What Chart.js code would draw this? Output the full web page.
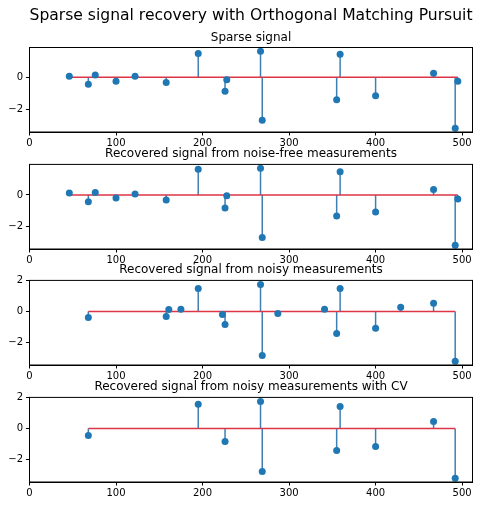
<!DOCTYPE html>
<html><head><meta charset="utf-8">
<script src="https://cdn.jsdelivr.net/npm/chart.js@4/dist/chart.umd.min.js"></script>
<style>
body{margin:0;background:#fff;width:487px;height:505px;position:relative;overflow:hidden}
canvas{position:absolute;left:0}
</style></head><body>
<canvas id="c0" width="487" height="152" style="top:0px"></canvas>
<canvas id="c1" width="487" height="123" style="top:145.6px"></canvas>
<canvas id="c2" width="487" height="123" style="top:262.1px"></canvas>
<canvas id="c3" width="487" height="123" style="top:378.6px"></canvas>
<script>
const suptitle = "Sparse signal recovery with Orthogonal Matching Pursuit";
const panelTitles = [
  "Sparse signal",
  "Recovered signal from noise-free measurements",
  "Recovered signal from noisy measurements",
  "Recovered signal from noisy measurements with CV"
];
const xTicks = [0, 100, 200, 300, 400, 500];
const yTicksA = [-2, 0];
const yTicksB = [-2, 0, 2];

// Panel 1: sparse signal
const idx1  = [46, 68, 76, 100, 122, 158, 195, 226, 228, 267, 269, 355, 359, 400, 467, 492, 495];
const coef1 = [0.07, -0.44, 0.15, -0.25, 0.06, -0.33, 1.50, -0.88, -0.15, 1.63, -2.69, -1.40, 1.44, -1.15, 0.25, -3.19, -0.25];
// Panel 2: noise-free recovery
const idx2  = [46, 68, 76, 100, 122, 158, 195, 226, 228, 267, 269, 355, 359, 400, 467, 492, 495];
const coef2 = [0.13, -0.43, 0.15, -0.19, 0.06, -0.32, 1.63, -0.84, -0.06, 1.70, -2.71, -1.35, 1.48, -1.08, 0.34, -3.20, -0.26];
// Panel 3: noisy recovery
const idx3  = [68, 158, 161, 175, 195, 223, 226, 267, 269, 287, 341, 355, 359, 400, 429, 467, 492];
const coef3 = [-0.39, -0.32, 0.13, 0.15, 1.48, -0.19, -0.84, 1.74, -2.84, -0.13, 0.15, -1.42, 1.48, -1.08, 0.28, 0.54, -3.20];
// Panel 4: noisy recovery with CV
const idx4  = [68, 195, 226, 267, 269, 355, 359, 400, 467, 492];
const coef4 = [-0.45, 1.57, -0.84, 1.74, -2.77, -1.42, 1.42, -1.16, 0.45, -3.20];

const yLims = [[-3.43, 1.87], [-3.445, 1.945], [-3.45, 2.01], [-3.45, 2.01]];

const FONT = "DejaVu Sans";
const frame = {
  id: 'frame',
  afterDatasetsDraw(chart) {
    const a = chart.chartArea, ctx = chart.ctx;
    ctx.save();
    ctx.strokeStyle = '#000';
    ctx.lineWidth = 1;
    ctx.strokeRect(a.left, a.top, a.right - a.left, a.bottom - a.top);
    ctx.restore();
  }
};

function fmt(v) { return v < 0 ? '\u2212' + Math.abs(v) : String(v); }

function makeChart(id, idx, coef, title, yTicks, lim, withSup) {
  const pts = idx.map((x, i) => ({x: x, y: coef[i]}));
  const stems = [];
  idx.forEach((x, i) => { stems.push({x: x, y: 0}, {x: x, y: coef[i]}, {x: x, y: null}); });
  const base = [{x: Math.min(...idx), y: 0}, {x: Math.max(...idx), y: 0}];
  const plugins = {
    legend: {display: false},
    tooltip: {enabled: false}
  };
  if (withSup) {
    plugins.title = {display: true, text: suptitle, fullSize: false, color: '#000',
      font: {family: FONT, size: 16, weight: 'normal'}, padding: {top: 6.4, bottom: 3.5}};
    plugins.subtitle = {display: true, text: title, fullSize: false, color: '#000',
      font: {family: FONT, size: 12, weight: 'normal'}, padding: {top: 2, bottom: 2}};
  } else {
    plugins.title = {display: true, text: title, fullSize: false, color: '#000',
      font: {family: FONT, size: 12, weight: 'normal'}, padding: {top: 1, bottom: 3}};
  }
  new Chart(document.getElementById(id), {
    type: 'line',
    data: {datasets: [
      {data: pts, showLine: false, pointRadius: 3.5, pointBackgroundColor: '#1f77b4',
       pointBorderWidth: 0, pointBorderColor: '#1f77b4', order: 1},
      {data: base, borderColor: '#dc3545', borderWidth: 1.5, pointRadius: 0, order: 2},
      {data: stems, borderColor: '#3f80b3', borderWidth: 1.5, pointRadius: 0, spanGaps: false, order: 3}
    ]},
    options: {
      responsive: false, animation: false, events: [],
      layout: {padding: {left: 0, right: 14.5, top: 0, bottom: 0}},
      plugins: plugins,
      scales: {
        x: {type: 'linear', min: 0, max: 512,
          afterBuildTicks: s => { s.ticks = xTicks.map(v => ({value: v})); },
          afterFit: s => { s.height = 20; },
          ticks: {font: {family: FONT, size: 10}, color: '#000', padding: 2, maxRotation: 0, autoSkip: false, callback: fmt},
          grid: {drawOnChartArea: false, tickLength: 3.5, tickColor: '#000', tickWidth: 1},
          border: {color: '#000', width: 1}},
        y: {type: 'linear', min: lim[0], max: lim[1],
          afterBuildTicks: s => { s.ticks = yTicks.map(v => ({value: v})); },
          afterFit: s => { s.width = 29.5; },
          ticks: {font: {family: FONT, size: 10}, color: '#000', padding: 3, autoSkip: false, callback: fmt},
          grid: {drawOnChartArea: false, tickLength: 3.5, tickColor: '#000', tickWidth: 1},
          border: {color: '#000', width: 1}}
      }
    },
    plugins: [frame]
  });
}

makeChart('c0', idx1, coef1, panelTitles[0], yTicksA, yLims[0], true);
makeChart('c1', idx2, coef2, panelTitles[1], yTicksA, yLims[1], false);
makeChart('c2', idx3, coef3, panelTitles[2], yTicksB, yLims[2], false);
makeChart('c3', idx4, coef4, panelTitles[3], yTicksB, yLims[3], false);
</script>
</body></html>
